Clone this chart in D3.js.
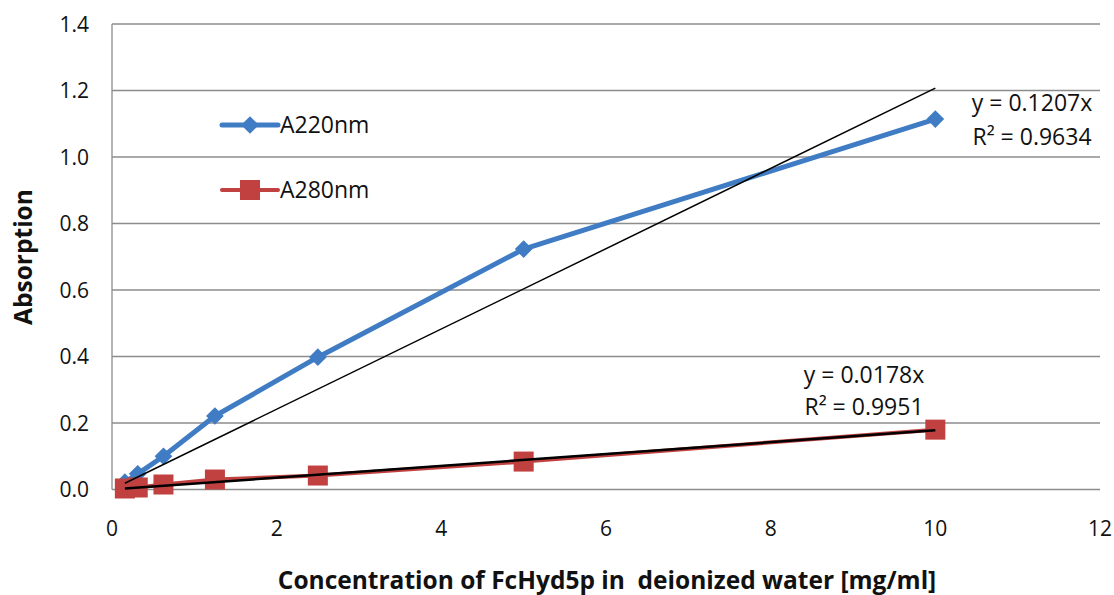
<!DOCTYPE html>
<html>
<head>
<meta charset="utf-8">
<script src="https://cdn.jsdelivr.net/npm/d3@7"></script>
<style>
  html, body { margin: 0; padding: 0; background: #fff; }
  svg { display: block; font-family: "Open Sans", sans-serif; }
</style>
</head>
<body>
<svg id="chart" width="1114" height="595"></svg>
<script>
// Concentration series (mg/ml) and measured absorbances
const concentrations = [0.15625, 0.3125, 0.625, 1.25, 2.5, 5, 10];
const a220 = [0.022, 0.047, 0.100, 0.221, 0.398, 0.723, 1.114];
const a280 = [0.003, 0.006, 0.015, 0.030, 0.042, 0.084, 0.180];
const seriesNames = ["A220nm", "A280nm"];
const slopes = [0.1207, 0.0178];
const r2Values = [0.9634, 0.9951];
const xTicks = [0, 2, 4, 6, 8, 10, 12];
const yTicks = [0, 0.2, 0.4, 0.6, 0.8, 1.0, 1.2, 1.4];

const svg = d3.select("#chart");
const x = d3.scaleLinear().domain([0, 12]).range([112, 1100]);
const y = d3.scaleLinear().domain([0, 1.4]).range([489.5, 24]);

const gridColor = "#8c8c8c";
const blue = "#3f7cc4";
const red = "#c0413f";
const textColor = "#111";
const tickSize = 21;
const labelSize = 23;
const titleSize = 24.5;

// horizontal gridlines
svg.append("g").selectAll("line").data(yTicks).join("line")
  .attr("x1", x(0)).attr("x2", x(12))
  .attr("y1", d => y(d)).attr("y2", d => y(d))
  .attr("stroke", gridColor).attr("stroke-width", 1.3);

// vertical axis line
svg.append("line")
  .attr("x1", x(0)).attr("x2", x(0)).attr("y1", y(0)).attr("y2", y(1.4))
  .attr("stroke", gridColor).attr("stroke-width", 1.3);

// y tick labels
svg.append("g").selectAll("text").data(yTicks).join("text")
  .attr("x", 89).attr("y", d => y(d)).attr("dy", "0.36em")
  .attr("text-anchor", "end").attr("font-size", tickSize).attr("fill", textColor)
  .text(d => d.toFixed(1));

// x tick labels
svg.append("g").selectAll("text").data(xTicks).join("text")
  .attr("x", d => x(d)).attr("y", 528).attr("dy", "0.36em")
  .attr("text-anchor", "middle").attr("font-size", tickSize).attr("fill", textColor)
  .text(d => d);

// axis titles
svg.append("text")
  .attr("transform", `translate(23,257) rotate(-90)`)
  .attr("text-anchor", "middle").attr("font-size", titleSize).attr("font-weight", "bold")
  .attr("fill", textColor).attr("dy", "0.36em").text("Absorption");
svg.append("text")
  .attr("x", 607).attr("y", 580).attr("dy", "0.36em")
  .attr("text-anchor", "middle").attr("font-size", titleSize).attr("font-weight", "bold")
  .attr("fill", textColor).attr("xml:space", "preserve")
  .text("Concentration of FcHyd5p in  deionized water [mg/ml]");

const line = d3.line().x(d => x(d[0])).y(d => y(d[1]));
const pts220 = concentrations.map((c, i) => [c, a220[i]]);
const pts280 = concentrations.map((c, i) => [c, a280[i]]);

// A220 series
svg.append("path").datum(pts220).attr("d", line)
  .attr("fill", "none").attr("stroke", blue).attr("stroke-width", 5)
  .attr("stroke-linejoin", "round");
const diamond = d3.symbol().type(d3.symbolDiamond2).size(200);
svg.append("g").selectAll("path").data(pts220).join("path")
  .attr("transform", d => `translate(${x(d[0])},${y(d[1])})`)
  .attr("d", diamond).attr("fill", blue);

// A280 series
svg.append("path").datum(pts280).attr("d", line)
  .attr("fill", "none").attr("stroke", red).attr("stroke-width", 4)
  .attr("stroke-linejoin", "round");
svg.append("g").selectAll("rect").data(pts280).join("rect")
  .attr("x", d => x(d[0]) - 10).attr("y", d => y(d[1]) - 10)
  .attr("width", 20).attr("height", 20).attr("fill", red);

// linear trend lines through the origin
const xMin = concentrations[0], xMax = concentrations[concentrations.length - 1];
slopes.forEach((s, i) => {
  svg.append("line")
    .attr("x1", x(xMin)).attr("y1", y(s * xMin))
    .attr("x2", x(xMax)).attr("y2", y(s * xMax))
    .attr("stroke", "#000").attr("stroke-width", i === 0 ? 1.5 : 2.5);
});

// trend line equations
const eqPos = [[1032, 103, 137], [864, 375, 407]];
slopes.forEach((s, i) => {
  const [cx, y1, y2] = eqPos[i];
  svg.append("text").attr("x", cx).attr("y", y1).attr("dy", "0.36em")
    .attr("text-anchor", "middle").attr("font-size", labelSize).attr("fill", textColor)
    .text(`y = ${s.toFixed(4)}x`);
  svg.append("text").attr("x", cx).attr("y", y2).attr("dy", "0.36em")
    .attr("text-anchor", "middle").attr("font-size", labelSize).attr("fill", textColor)
    .text(`R² = ${r2Values[i].toFixed(4)}`);
});

// legend
const legend = svg.append("g");
const legendY = [125, 190];
const colors = [blue, red];
seriesNames.forEach((name, i) => {
  const ly = legendY[i];
  legend.append("line").attr("x1", 222).attr("x2", 278).attr("y1", ly).attr("y2", ly)
    .attr("stroke", colors[i]).attr("stroke-width", i === 0 ? 5 : 4)
    .attr("stroke-linecap", "round");
  if (i === 0) {
    legend.append("path").attr("transform", `translate(250,${ly})`)
      .attr("d", diamond).attr("fill", blue);
  } else {
    legend.append("rect").attr("x", 240).attr("y", ly - 10)
      .attr("width", 20).attr("height", 20).attr("fill", red);
  }
  legend.append("text").attr("x", 280).attr("y", ly).attr("dy", "0.36em")
    .attr("font-size", labelSize).attr("fill", textColor).text(name);
});
</script>
</body>
</html>
